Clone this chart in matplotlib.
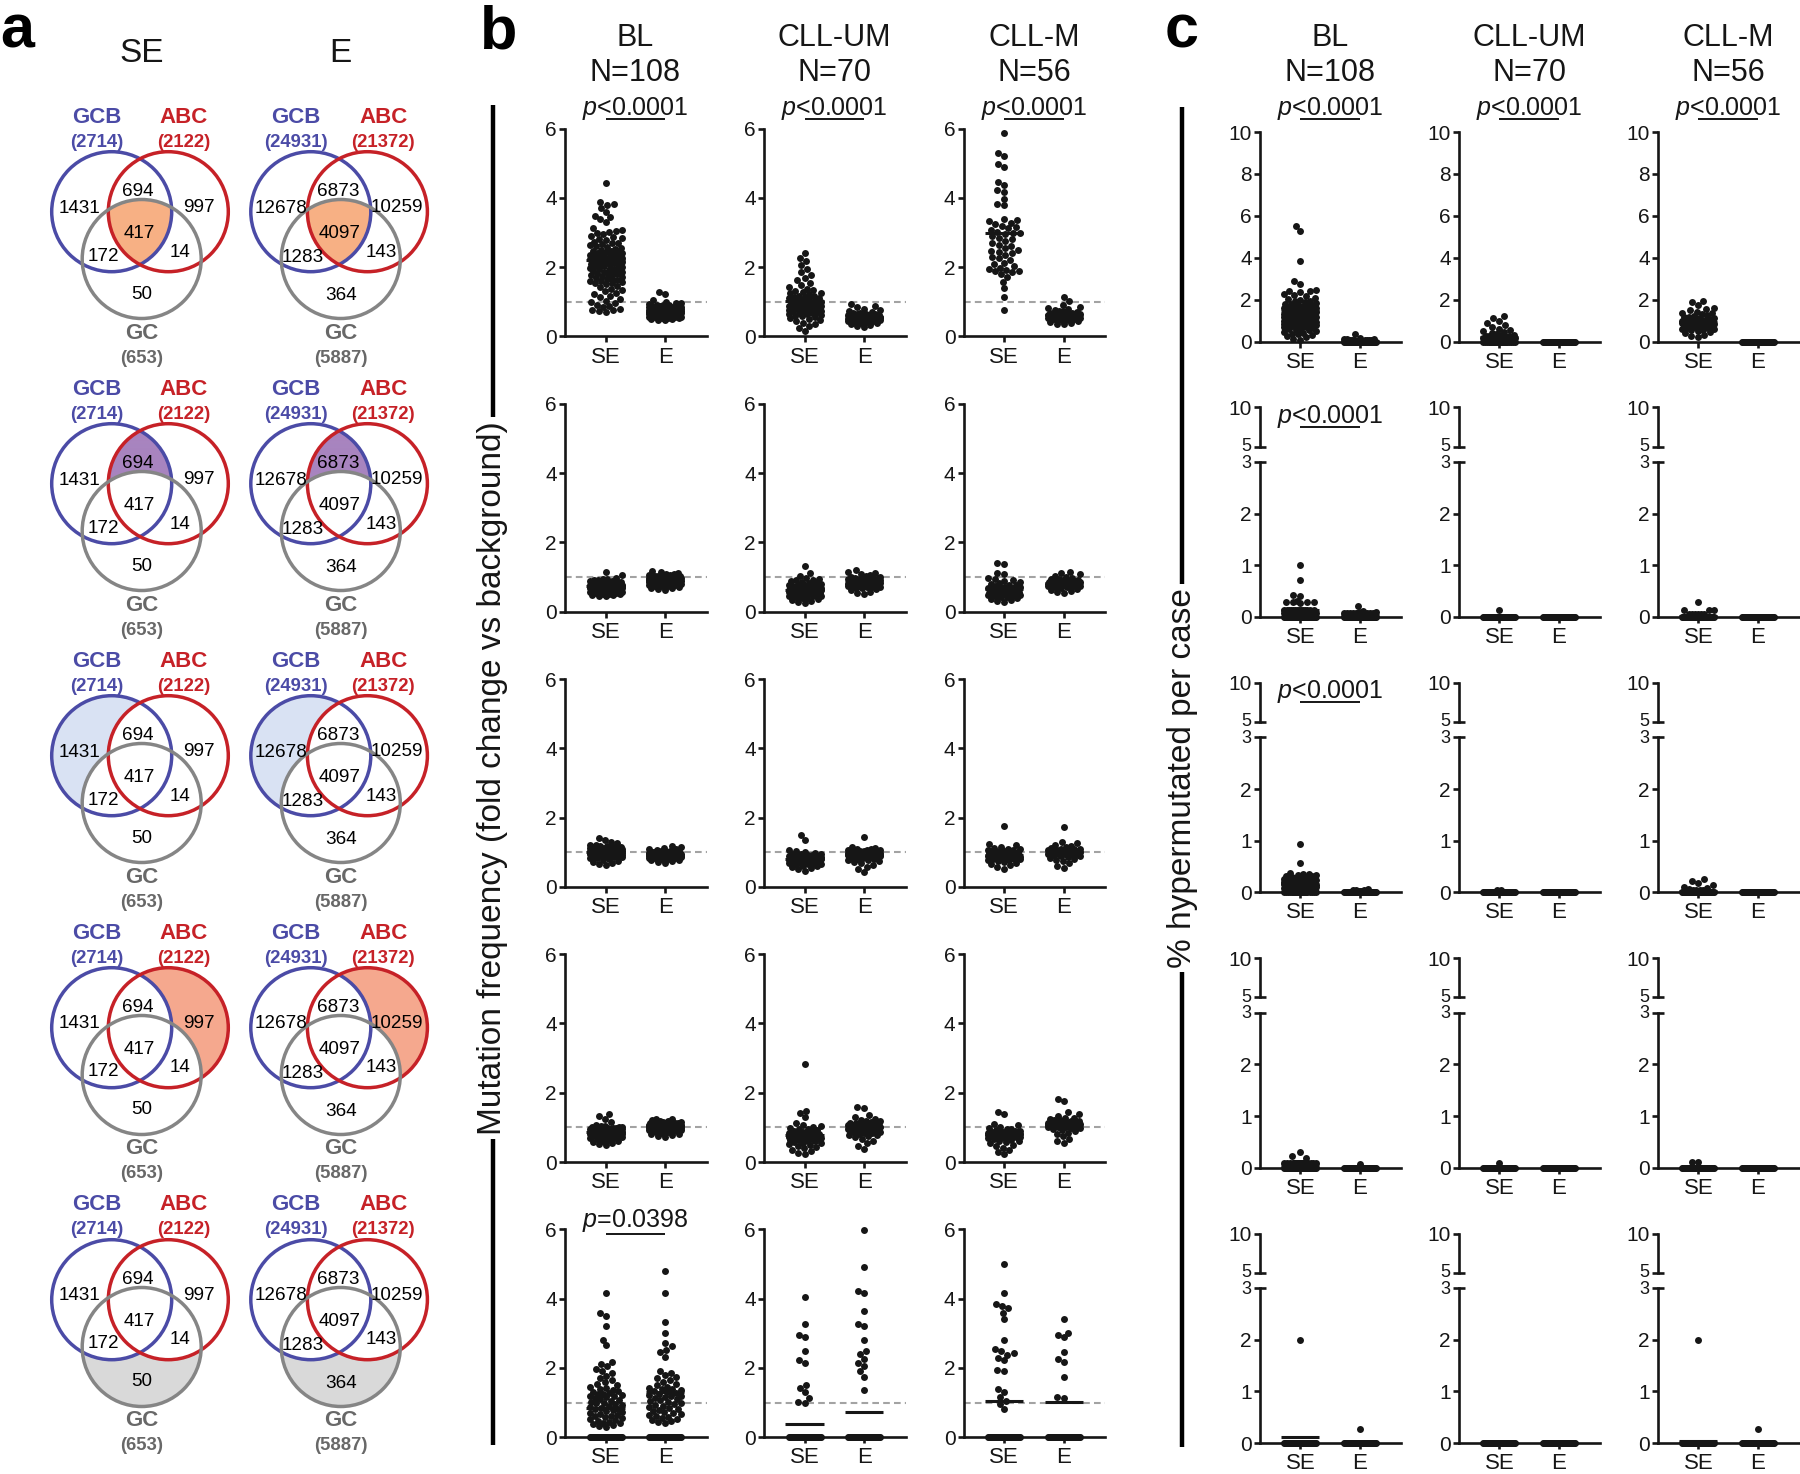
import numpy as np
import matplotlib
matplotlib.use("Agg")
import matplotlib.pyplot as plt
from matplotlib.patches import Circle
from matplotlib.transforms import blended_transform_factory

plt.rcParams['font.family'] = ['Liberation Sans', 'DejaVu Sans']
plt.rcParams['mathtext.fontset'] = 'custom'
plt.rcParams['mathtext.rm'] = 'Liberation Sans'
plt.rcParams['mathtext.it'] = 'Liberation Sans:italic'

# ======================= DATA =======================
groups = ["BL", "CLL-UM", "CLL-M"]
group_n = ["N=108", "N=70", "N=56"]
xcats = ["SE", "E"]

venn_cols = ["SE", "E"]
venn_set_names = ["GCB", "ABC", "GC"]
venn_set_sizes_SE = [2714, 2122, 653]
venn_set_sizes_E = [24931, 21372, 5887]
# order: GCB only, GCB&ABC, ABC only, all three, GCB&GC, ABC&GC, GC only
venn_regions_SE = [1431, 694, 997, 417, 172, 14, 50]
venn_regions_E = [12678, 6873, 10259, 4097, 1283, 143, 364]
venn_highlight = ["all", "gcb_abc", "gcb", "abc", "gc"]

# ---- panel b: mutation frequency (fold change vs background) ----
fc1_BL_SE = [4.42, 3.88, 3.82, 3.78, 3.70, 3.58, 3.49, 3.44, 3.38, 3.30, 3.12, 3.08, 3.05, 3.02, 2.98, 2.95,
             2.91, 2.88, 2.85, 2.80, 2.78, 2.74, 2.71, 2.70, 2.66, 2.63, 2.60, 2.58, 2.55, 2.53, 2.50, 2.48,
             2.47, 2.44, 2.42, 2.41, 2.38, 2.36, 2.35, 2.33, 2.31, 2.30, 2.28, 2.26, 2.25, 2.23, 2.21, 2.20,
             2.19, 2.17, 2.15, 2.14, 2.12, 2.10, 2.09, 2.07, 2.05, 2.03, 2.02, 2.00, 1.98, 1.96, 1.95, 1.93,
             1.91, 1.89, 1.87, 1.86, 1.84, 1.82, 1.80, 1.79, 1.77, 1.75, 1.72, 1.70, 1.68, 1.66, 1.63, 1.61,
             1.59, 1.57, 1.55, 1.53, 1.50, 1.46, 1.42, 1.38, 1.35, 1.30, 1.26, 1.22, 1.18, 1.13, 1.08, 1.03,
             0.99, 0.95, 0.91, 0.87, 0.84, 0.80, 0.77, 0.75, 0.73, 0.71, 2.44, 2.27]
fc1_BL_E = [1.28, 1.22, 1.05, 1.00, 0.97, 0.95, 0.94, 0.92, 0.91, 0.90, 0.89, 0.88, 0.87, 0.86, 0.86, 0.85,
            0.84, 0.83, 0.83, 0.82, 0.81, 0.80, 0.80, 0.79, 0.78, 0.78, 0.77, 0.76, 0.76, 0.75, 0.75, 0.74,
            0.74, 0.73, 0.73, 0.72, 0.72, 0.71, 0.71, 0.70, 0.70, 0.69, 0.69, 0.68, 0.68, 0.67, 0.67, 0.66,
            0.66, 0.65, 0.65, 0.64, 0.64, 0.63, 0.63, 0.62, 0.62, 0.61, 0.61, 0.60, 0.60, 0.59, 0.59, 0.58,
            0.58, 0.57, 0.57, 0.56, 0.56, 0.55, 0.55, 0.54, 0.53, 0.52, 0.51, 0.50, 0.48, 0.46, 0.74, 0.71,
            0.69, 0.66, 0.63, 0.61, 0.77, 0.73, 0.68, 0.64, 0.62, 0.70, 0.67, 0.65, 0.72, 0.60, 0.58, 0.75,
            0.79, 0.81, 0.84, 0.66, 0.69, 0.71, 0.63, 0.59, 0.62, 0.68, 0.57, 0.73]
fc1_UM_SE = [2.42, 2.25, 2.18, 2.05, 1.95, 1.85, 1.78, 1.70, 1.62, 1.55, 1.48, 1.42, 1.38, 1.35, 1.30, 1.27,
             1.24, 1.21, 1.18, 1.16, 1.14, 1.12, 1.10, 1.08, 1.06, 1.04, 1.02, 1.00, 0.98, 0.96, 0.95, 0.93,
             0.91, 0.90, 0.88, 0.86, 0.85, 0.83, 0.82, 0.80, 0.78, 0.77, 0.75, 0.73, 0.72, 0.70, 0.68, 0.66,
             0.64, 0.62, 0.60, 0.58, 0.55, 0.52, 0.50, 0.47, 0.44, 0.40, 0.36, 0.30, 0.25, 0.15, 0.87, 0.92,
             1.15, 0.97, 0.74, 1.25, 0.69, 0.81]
fc1_UM_E = [0.93, 0.88, 0.84, 0.80, 0.76, 0.73, 0.71, 0.69, 0.67, 0.66, 0.65, 0.64, 0.63, 0.62, 0.62, 0.61,
            0.60, 0.60, 0.59, 0.59, 0.58, 0.58, 0.57, 0.57, 0.56, 0.56, 0.55, 0.55, 0.54, 0.54, 0.53, 0.53,
            0.52, 0.52, 0.51, 0.51, 0.50, 0.50, 0.49, 0.49, 0.48, 0.48, 0.47, 0.46, 0.45, 0.44, 0.43, 0.42,
            0.40, 0.38, 0.36, 0.33, 0.30, 0.26, 0.57, 0.55, 0.53, 0.61, 0.63, 0.51, 0.49, 0.58, 0.60, 0.54,
            0.52, 0.56, 0.59, 0.47, 0.62, 0.50]
fc1_M_SE = [5.88, 5.30, 5.20, 4.98, 4.90, 4.45, 4.38, 4.22, 4.18, 3.98, 3.82, 3.78, 3.40, 3.35, 3.32, 3.28,
            3.25, 3.20, 3.15, 3.08, 3.02, 3.00, 2.98, 2.95, 2.90, 2.85, 2.80, 2.75, 2.70, 2.62, 2.55, 2.50,
            2.48, 2.45, 2.40, 2.35, 2.30, 2.25, 2.20, 2.12, 2.08, 2.02, 1.98, 1.95, 1.92, 1.90, 1.88, 1.85,
            1.80, 1.72, 1.58, 1.40, 1.15, 0.75, 3.12, 2.65]
fc1_M_E = [1.15, 1.02, 0.92, 0.86, 0.82, 0.79, 0.76, 0.74, 0.72, 0.70, 0.69, 0.68, 0.67, 0.66, 0.65, 0.64,
           0.64, 0.63, 0.63, 0.62, 0.62, 0.61, 0.61, 0.60, 0.60, 0.59, 0.59, 0.58, 0.58, 0.57, 0.57, 0.56,
           0.56, 0.55, 0.55, 0.54, 0.53, 0.52, 0.51, 0.50, 0.49, 0.48, 0.46, 0.44, 0.42, 0.40, 0.37, 0.35,
           0.65, 0.63, 0.61, 0.59, 0.66, 0.60, 0.62, 0.58]

fc2_BL_SE = [1.14, 1.05, 0.98, 0.95, 0.93, 0.91, 0.90, 0.88, 0.87, 0.86, 0.85, 0.84, 0.83, 0.83, 0.82, 0.81,
             0.81, 0.80, 0.80, 0.79, 0.79, 0.78, 0.78, 0.77, 0.77, 0.76, 0.76, 0.76, 0.75, 0.75, 0.75, 0.74,
             0.74, 0.74, 0.73, 0.73, 0.73, 0.72, 0.72, 0.72, 0.71, 0.71, 0.71, 0.70, 0.70, 0.70, 0.69, 0.69,
             0.69, 0.68, 0.68, 0.68, 0.67, 0.67, 0.67, 0.66, 0.66, 0.66, 0.65, 0.65, 0.65, 0.64, 0.64, 0.63,
             0.63, 0.62, 0.62, 0.61, 0.61, 0.60, 0.60, 0.59, 0.58, 0.57, 0.56, 0.55, 0.54, 0.53, 0.52, 0.51,
             0.50, 0.49, 0.48, 0.46, 0.45, 0.78, 0.74, 0.71, 0.69, 0.66, 0.63, 0.77, 0.73, 0.70, 0.67, 0.64,
             0.80, 0.72, 0.68, 0.62, 0.75, 0.71, 0.58, 0.82, 0.69, 0.65, 0.60, 0.74]
fc2_BL_E = [1.18, 1.15, 1.12, 1.10, 1.08, 1.06, 1.05, 1.04, 1.03, 1.02, 1.01, 1.00, 1.00, 0.99, 0.99, 0.98,
            0.98, 0.97, 0.97, 0.96, 0.96, 0.96, 0.95, 0.95, 0.95, 0.94, 0.94, 0.94, 0.93, 0.93, 0.93, 0.92,
            0.92, 0.92, 0.91, 0.91, 0.91, 0.90, 0.90, 0.90, 0.89, 0.89, 0.89, 0.88, 0.88, 0.88, 0.87, 0.87,
            0.87, 0.86, 0.86, 0.86, 0.85, 0.85, 0.85, 0.84, 0.84, 0.83, 0.83, 0.82, 0.82, 0.81, 0.81, 0.80,
            0.80, 0.79, 0.78, 0.77, 0.76, 0.75, 0.74, 0.73, 0.71, 0.69, 0.67, 0.65, 0.62, 0.93, 0.90, 0.87,
            0.84, 0.97, 0.92, 0.89, 0.86, 0.95, 0.91, 0.88, 0.83, 0.99, 0.94, 0.90, 0.85, 0.96, 0.92, 0.87,
            0.82, 1.01, 0.93, 0.89, 0.86, 0.98, 0.91, 0.88, 0.84, 0.95, 0.90, 0.87]
fc2_UM_SE = [1.32, 1.12, 1.02, 0.98, 0.95, 0.92, 0.90, 0.88, 0.86, 0.84, 0.82, 0.80, 0.79, 0.77, 0.76, 0.74,
             0.73, 0.72, 0.70, 0.69, 0.68, 0.67, 0.66, 0.65, 0.64, 0.63, 0.62, 0.61, 0.60, 0.59, 0.58, 0.57,
             0.56, 0.55, 0.54, 0.53, 0.52, 0.51, 0.50, 0.49, 0.48, 0.47, 0.46, 0.45, 0.44, 0.42, 0.40, 0.38,
             0.36, 0.34, 0.31, 0.28, 0.25, 0.66, 0.63, 0.60, 0.57, 0.54, 0.71, 0.68, 0.64, 0.58, 0.52, 0.75,
             0.62, 0.55, 0.48, 0.69, 0.59, 0.50]
fc2_UM_E = [1.20, 1.15, 1.12, 1.08, 1.05, 1.03, 1.01, 0.99, 0.98, 0.96, 0.95, 0.94, 0.93, 0.92, 0.91, 0.90,
            0.89, 0.88, 0.88, 0.87, 0.86, 0.86, 0.85, 0.85, 0.84, 0.84, 0.83, 0.83, 0.82, 0.82, 0.81, 0.81,
            0.80, 0.80, 0.79, 0.78, 0.77, 0.76, 0.75, 0.74, 0.73, 0.72, 0.71, 0.70, 0.69, 0.67, 0.65, 0.62,
            0.58, 0.54, 0.50, 0.90, 0.87, 0.84, 0.81, 0.78, 0.93, 0.89, 0.86, 0.83, 0.79, 0.95, 0.88, 0.85,
            0.80, 0.76, 0.91, 0.87, 0.82, 0.77]
fc2_M_SE = [1.40, 1.38, 1.12, 1.10, 0.98, 0.94, 0.90, 0.87, 0.85, 0.82, 0.80, 0.78, 0.76, 0.74, 0.72, 0.70,
            0.69, 0.68, 0.66, 0.65, 0.64, 0.63, 0.62, 0.61, 0.60, 0.59, 0.58, 0.57, 0.56, 0.55, 0.54, 0.53,
            0.52, 0.51, 0.50, 0.49, 0.48, 0.47, 0.46, 0.45, 0.43, 0.41, 0.39, 0.36, 0.33, 0.30, 0.28, 0.67,
            0.63, 0.58, 0.54, 0.71, 0.60, 0.56, 0.50, 0.62]
fc2_M_E = [1.15, 1.12, 1.08, 1.04, 1.00, 0.97, 0.95, 0.93, 0.92, 0.91, 0.90, 0.89, 0.88, 0.87, 0.86, 0.86,
           0.85, 0.85, 0.84, 0.84, 0.83, 0.83, 0.82, 0.82, 0.81, 0.81, 0.80, 0.80, 0.79, 0.79, 0.78, 0.78,
           0.77, 0.76, 0.75, 0.74, 0.73, 0.72, 0.70, 0.68, 0.66, 0.63, 0.60, 0.57, 0.55, 0.86, 0.84, 0.82,
           0.80, 0.88, 0.85, 0.83, 0.81, 0.87, 0.79, 0.84]

fc3_BL_SE = [1.42, 1.36, 1.30, 1.26, 1.22, 1.20, 1.18, 1.17, 1.16, 1.15, 1.14, 1.13, 1.12, 1.11, 1.10, 1.10,
             1.09, 1.08, 1.08, 1.07, 1.06, 1.06, 1.05, 1.05, 1.04, 1.04, 1.03, 1.03, 1.02, 1.02, 1.02, 1.01,
             1.01, 1.01, 1.00, 1.00, 1.00, 0.99, 0.99, 0.99, 0.98, 0.98, 0.98, 0.97, 0.97, 0.97, 0.96, 0.96,
             0.96, 0.95, 0.95, 0.95, 0.94, 0.94, 0.93, 0.93, 0.92, 0.92, 0.91, 0.91, 0.90, 0.90, 0.89, 0.88,
             0.87, 0.86, 0.85, 0.84, 0.82, 0.80, 0.78, 0.75, 0.72, 0.68, 0.65, 0.62, 1.05, 1.02, 0.99, 0.96,
             0.93, 1.08, 1.03, 1.00, 0.97, 0.94, 1.12, 1.06, 1.01, 0.98, 0.95, 0.91, 1.14, 1.04, 0.99, 0.92,
             1.09, 1.00, 0.96, 0.89, 1.07, 1.02, 0.97, 0.94, 1.11, 1.03, 0.98, 0.93]
fc3_BL_E = [1.18, 1.15, 1.12, 1.10, 1.08, 1.06, 1.04, 1.03, 1.02, 1.01, 1.00, 1.00, 0.99, 0.99, 0.98, 0.98,
            0.98, 0.97, 0.97, 0.97, 0.96, 0.96, 0.96, 0.95, 0.95, 0.95, 0.95, 0.94, 0.94, 0.94, 0.94, 0.93,
            0.93, 0.93, 0.93, 0.92, 0.92, 0.92, 0.92, 0.91, 0.91, 0.91, 0.91, 0.90, 0.90, 0.90, 0.90, 0.89,
            0.89, 0.89, 0.88, 0.88, 0.88, 0.87, 0.87, 0.87, 0.86, 0.86, 0.85, 0.85, 0.84, 0.83, 0.82, 0.81,
            0.80, 0.78, 0.76, 0.74, 0.72, 0.70, 0.96, 0.93, 0.90, 0.88, 0.95, 0.92, 0.89, 0.97, 0.94, 0.91,
            0.87, 0.99, 0.93, 0.90, 0.86, 0.96, 0.92, 0.89, 0.95, 0.91, 0.88, 1.00, 0.94, 0.90, 0.87, 0.97,
            0.93, 0.89, 0.96, 0.92, 0.88, 0.98, 0.94, 0.91, 0.86, 0.95, 0.92, 0.90]
fc3_UM_SE = [1.50, 1.35, 1.05, 1.02, 1.00, 0.98, 0.96, 0.95, 0.94, 0.93, 0.92, 0.91, 0.90, 0.89, 0.88, 0.87,
             0.86, 0.86, 0.85, 0.85, 0.84, 0.84, 0.83, 0.83, 0.82, 0.82, 0.81, 0.81, 0.80, 0.80, 0.79, 0.79,
             0.78, 0.78, 0.77, 0.77, 0.76, 0.76, 0.75, 0.75, 0.74, 0.73, 0.72, 0.71, 0.70, 0.69, 0.68, 0.67,
             0.66, 0.65, 0.63, 0.61, 0.59, 0.56, 0.53, 0.50, 0.45, 0.84, 0.81, 0.78, 0.75, 0.88, 0.83, 0.79,
             0.74, 0.86, 0.80, 0.77, 0.82, 0.76]
fc3_UM_E = [1.45, 1.15, 1.12, 1.10, 1.08, 1.07, 1.06, 1.05, 1.04, 1.03, 1.02, 1.01, 1.00, 1.00, 0.99, 0.99,
            0.98, 0.98, 0.97, 0.97, 0.96, 0.96, 0.95, 0.95, 0.94, 0.94, 0.93, 0.93, 0.92, 0.92, 0.91, 0.91,
            0.90, 0.90, 0.89, 0.89, 0.88, 0.88, 0.87, 0.86, 0.85, 0.84, 0.83, 0.82, 0.81, 0.80, 0.78, 0.76,
            0.74, 0.71, 0.68, 0.64, 0.58, 0.50, 0.42, 0.97, 0.94, 0.91, 0.88, 1.01, 0.96, 0.93, 0.90, 0.86,
            0.99, 0.95, 0.92, 0.87, 1.03, 0.90]
fc3_M_SE = [1.76, 1.25, 1.20, 1.16, 1.12, 1.10, 1.08, 1.06, 1.05, 1.04, 1.03, 1.02, 1.01, 1.00, 0.99, 0.98,
            0.97, 0.96, 0.95, 0.94, 0.93, 0.92, 0.92, 0.91, 0.90, 0.89, 0.88, 0.88, 0.87, 0.86, 0.85, 0.84,
            0.83, 0.82, 0.81, 0.80, 0.79, 0.78, 0.76, 0.74, 0.72, 0.69, 0.66, 0.62, 0.57, 0.52, 0.95, 0.90,
            0.86, 0.83, 0.98, 0.93, 0.89, 0.85, 1.00, 0.87]
fc3_M_E = [1.72, 1.30, 1.27, 1.22, 1.18, 1.15, 1.12, 1.10, 1.09, 1.08, 1.07, 1.06, 1.05, 1.04, 1.03, 1.02,
           1.02, 1.01, 1.01, 1.00, 1.00, 0.99, 0.99, 0.98, 0.98, 0.97, 0.97, 0.96, 0.96, 0.95, 0.95, 0.94,
           0.93, 0.92, 0.91, 0.90, 0.88, 0.86, 0.84, 0.81, 0.78, 0.74, 0.68, 0.60, 0.55, 1.03, 1.00, 0.97,
           0.94, 1.06, 1.01, 0.98, 0.95, 1.04, 0.99, 0.96]

fc4_BL_SE = [1.40, 1.32, 1.25, 1.15, 1.08, 1.05, 1.03, 1.02, 1.01, 1.00, 0.99, 0.98, 0.97, 0.97, 0.96, 0.96,
             0.95, 0.95, 0.94, 0.94, 0.93, 0.93, 0.92, 0.92, 0.91, 0.91, 0.90, 0.90, 0.90, 0.89, 0.89, 0.89,
             0.88, 0.88, 0.88, 0.87, 0.87, 0.87, 0.86, 0.86, 0.86, 0.85, 0.85, 0.85, 0.84, 0.84, 0.84, 0.83,
             0.83, 0.83, 0.82, 0.82, 0.82, 0.81, 0.81, 0.80, 0.80, 0.79, 0.79, 0.78, 0.78, 0.77, 0.77, 0.76,
             0.75, 0.74, 0.73, 0.72, 0.71, 0.70, 0.68, 0.66, 0.64, 0.62, 0.60, 0.57, 0.54, 0.51, 0.48, 0.90,
             0.87, 0.84, 0.81, 0.92, 0.88, 0.85, 0.82, 0.79, 0.94, 0.89, 0.86, 0.83, 0.80, 0.91, 0.87, 0.84,
             0.78, 0.93, 0.88, 0.85, 0.81, 0.90, 0.86, 0.83, 0.76, 0.89, 0.85, 0.82]
fc4_BL_E = [1.25, 1.23, 1.21, 1.19, 1.17, 1.16, 1.15, 1.14, 1.13, 1.12, 1.11, 1.10, 1.10, 1.09, 1.09, 1.08,
            1.08, 1.07, 1.07, 1.06, 1.06, 1.06, 1.05, 1.05, 1.05, 1.04, 1.04, 1.04, 1.03, 1.03, 1.03, 1.02,
            1.02, 1.02, 1.01, 1.01, 1.01, 1.00, 1.00, 1.00, 0.99, 0.99, 0.99, 0.98, 0.98, 0.98, 0.97, 0.97,
            0.96, 0.96, 0.95, 0.95, 0.94, 0.93, 0.92, 0.91, 0.90, 0.88, 0.86, 0.84, 0.82, 0.80, 0.77, 0.75,
            0.72, 1.06, 1.03, 1.00, 0.97, 1.08, 1.04, 1.01, 0.98, 1.10, 1.05, 1.02, 0.99, 1.07, 1.03, 1.00,
            0.96, 1.12, 1.06, 1.02, 0.98, 1.09, 1.04, 1.01, 0.97, 1.11, 1.05, 1.02, 0.99, 1.07, 1.03, 1.00,
            0.95, 1.08, 1.04, 1.01, 0.98, 1.06, 1.02, 0.99, 1.05, 1.03, 1.00, 1.04]
fc4_UM_SE = [2.83, 1.48, 1.42, 1.30, 1.12, 1.08, 1.05, 1.02, 0.99, 0.96, 0.94, 0.92, 0.90, 0.88, 0.86, 0.85,
             0.84, 0.83, 0.82, 0.81, 0.80, 0.79, 0.78, 0.77, 0.76, 0.76, 0.75, 0.75, 0.74, 0.74, 0.73, 0.73,
             0.72, 0.72, 0.71, 0.71, 0.70, 0.70, 0.69, 0.68, 0.67, 0.66, 0.65, 0.64, 0.63, 0.62, 0.60, 0.58,
             0.56, 0.54, 0.52, 0.50, 0.47, 0.44, 0.40, 0.36, 0.31, 0.26, 0.22, 0.78, 0.75, 0.72, 0.69, 0.80,
             0.76, 0.73, 0.70, 0.82, 0.74, 0.71]
fc4_UM_E = [1.60, 1.55, 1.35, 1.30, 1.25, 1.22, 1.19, 1.17, 1.15, 1.13, 1.12, 1.10, 1.09, 1.08, 1.07, 1.06,
            1.05, 1.04, 1.03, 1.03, 1.02, 1.02, 1.01, 1.01, 1.00, 1.00, 0.99, 0.99, 0.98, 0.98, 0.97, 0.97,
            0.96, 0.96, 0.95, 0.95, 0.94, 0.93, 0.92, 0.91, 0.90, 0.89, 0.88, 0.87, 0.86, 0.85, 0.83, 0.81,
            0.79, 0.77, 0.74, 0.71, 0.67, 0.62, 0.55, 0.47, 0.38, 1.04, 1.01, 0.98, 0.95, 1.06, 1.02, 0.99,
            0.96, 1.08, 1.00, 0.97, 1.03, 0.94]
fc4_M_SE = [1.45, 1.38, 1.10, 1.06, 1.02, 0.99, 0.96, 0.94, 0.92, 0.90, 0.89, 0.88, 0.87, 0.86, 0.85, 0.84,
            0.84, 0.83, 0.83, 0.82, 0.82, 0.81, 0.81, 0.80, 0.80, 0.79, 0.79, 0.78, 0.78, 0.77, 0.76, 0.75,
            0.74, 0.73, 0.72, 0.71, 0.70, 0.68, 0.66, 0.64, 0.62, 0.60, 0.57, 0.54, 0.50, 0.46, 0.41, 0.35,
            0.28, 0.22, 0.85, 0.81, 0.78, 0.83, 0.80, 0.76]
fc4_M_E = [1.82, 1.75, 1.45, 1.38, 1.32, 1.28, 1.26, 1.24, 1.22, 1.20, 1.19, 1.18, 1.17, 1.16, 1.15, 1.14,
           1.13, 1.12, 1.11, 1.10, 1.10, 1.09, 1.09, 1.08, 1.08, 1.07, 1.07, 1.06, 1.06, 1.05, 1.05, 1.04,
           1.03, 1.02, 1.01, 1.00, 0.99, 0.97, 0.95, 0.92, 0.89, 0.85, 0.80, 0.74, 0.67, 0.60, 0.55, 1.12,
           1.09, 1.06, 1.03, 1.15, 1.11, 1.08, 1.04, 1.13]

fc5_BL_SE = [4.17, 3.58, 3.50, 3.20, 2.82, 2.65, 2.18, 2.12, 2.05, 1.98, 1.92, 1.85, 1.78, 1.72, 1.65, 1.60,
             1.55, 1.50, 1.46, 1.42, 1.38, 1.35, 1.32, 1.30, 1.28, 1.26, 1.24, 1.22, 1.20, 1.18, 1.15, 1.12,
             1.10, 1.08, 1.05, 1.02, 1.00, 0.98, 0.95, 0.92, 0.90, 0.88, 0.85, 0.82, 0.80, 0.78, 0.75, 0.72,
             0.70, 0.68, 0.65, 0.62, 0.60, 0.57, 0.55, 0.52, 0.50, 0.47, 0.45, 0.42, 0.40, 0.38, 0.35, 0.32,
             0.30] + [0.0] * 43
fc5_BL_E = [4.80, 4.15, 3.32, 3.00, 2.72, 2.62, 2.52, 2.45, 2.32, 1.92, 1.86, 1.80, 1.75, 1.70, 1.65, 1.60,
            1.55, 1.50, 1.46, 1.42, 1.40, 1.38, 1.35, 1.33, 1.30, 1.28, 1.25, 1.22, 1.20, 1.18, 1.15, 1.12,
            1.10, 1.08, 1.05, 1.02, 1.00, 0.97, 0.94, 0.91, 0.88, 0.85, 0.82, 0.79, 0.76, 0.73, 0.70, 0.67,
            0.64, 0.61, 0.58, 0.55, 0.52, 0.49, 0.46, 0.43, 0.40] + [0.0] * 51
fc5_UM_SE = [4.05, 3.27, 2.95, 2.88, 2.48, 2.22, 2.15, 1.52, 1.42, 1.30, 1.12, 1.02, 0.98] + [0.0] * 57
fc5_UM_E = [5.98, 4.92, 4.22, 4.15, 3.65, 3.28, 3.20, 2.80, 2.48, 2.40, 2.25, 2.15, 2.05, 1.90, 1.75,
            1.35] + [0.0] * 54
fc5_M_SE = [5.00, 4.17, 3.85, 3.78, 3.72, 3.60, 3.42, 2.80, 2.55, 2.48, 2.42, 2.38, 2.30, 2.22, 1.95, 1.90,
            1.38, 1.30, 1.15, 1.05, 0.95, 0.80] + [0.0] * 34
fc5_M_E = [3.40, 3.02, 2.95, 2.88, 2.45, 2.25, 2.18, 1.75, 1.15, 1.12] + [0.0] * 46

# mean lines, per row: BL SE, BL E, UM SE, UM E, M SE, M E
fc_means_1 = [2.21, 0.70, 1.02, 0.56, 2.98, 0.62]
fc_means_2 = [0.73, 0.90, 0.62, 0.85, 0.66, 0.83]
fc_means_3 = [1.00, 0.93, 0.80, 0.92, 0.92, 1.00]
fc_means_4 = [0.87, 1.03, 0.77, 1.00, 0.82, 1.08]
fc_means_5 = [0.83, 1.30, 0.38, 0.74, 1.05, 1.02]

# ---- panel c: % hypermutated per case ----
hm1_BL_SE = [5.52, 5.28, 3.85, 2.90, 2.75, 2.48, 2.42, 2.40, 2.35, 2.25, 2.20, 2.15, 2.10, 2.05, 2.00, 1.95,
             1.92, 1.88, 1.85, 1.80, 1.78, 1.75, 1.72, 1.70, 1.68, 1.65, 1.62, 1.60, 1.58, 1.55, 1.52, 1.50,
             1.48, 1.46, 1.44, 1.42, 1.40, 1.38, 1.36, 1.34, 1.32, 1.30, 1.28, 1.26, 1.24, 1.22, 1.20, 1.18,
             1.16, 1.14, 1.12, 1.10, 1.08, 1.06, 1.04, 1.02, 1.00, 0.98, 0.96, 0.94, 0.92, 0.90, 0.88, 0.86,
             0.84, 0.82, 0.80, 0.78, 0.76, 0.74, 0.72, 0.70, 0.68, 0.65, 0.62, 0.60, 0.57, 0.54, 0.50, 0.46,
             0.42, 0.38, 0.34, 0.30, 0.25, 0.20, 0.12, 0.05, 1.25, 1.15, 1.05, 0.95, 0.85, 1.35, 1.20, 1.00,
             0.90, 1.45, 1.10, 0.98, 1.30, 1.02, 0.93, 1.18, 1.08, 0.97, 1.40, 1.13]
hm1_BL_E = [0.35, 0.15, 0.12, 0.10, 0.10, 0.08, 0.08, 0.06, 0.06, 0.05, 0.05, 0.05, 0.04, 0.04, 0.04, 0.03,
            0.03, 0.03, 0.02, 0.02] + [0.0] * 88
hm1_UM_SE = [1.22, 1.10, 1.00, 0.90, 0.80, 0.70, 0.62, 0.55, 0.50, 0.45, 0.40, 0.36, 0.33, 0.30, 0.28, 0.26,
             0.24, 0.22, 0.20, 0.20, 0.18, 0.18, 0.16, 0.16, 0.15, 0.14, 0.14, 0.13, 0.12, 0.12, 0.11, 0.10,
             0.10, 0.10, 0.09, 0.08, 0.08, 0.07, 0.06, 0.06, 0.05, 0.05, 0.04, 0.03] + [0.0] * 26
hm1_UM_E = [0.0] * 70
hm1_M_SE = [1.95, 1.90, 1.75, 1.62, 1.55, 1.48, 1.42, 1.38, 1.34, 1.30, 1.26, 1.22, 1.18, 1.15, 1.12, 1.10,
            1.08, 1.05, 1.03, 1.00, 0.98, 0.96, 0.94, 0.92, 0.90, 0.88, 0.86, 0.84, 0.82, 0.80, 0.78, 0.76,
            0.74, 0.72, 0.70, 0.68, 0.66, 0.64, 0.62, 0.60, 0.57, 0.54, 0.50, 0.46, 0.40, 0.33, 0.25, 0.20,
            1.02, 0.97, 0.91, 0.85, 0.79, 1.06, 0.95, 0.83]
hm1_M_E = [0.0] * 56

hm2_BL_SE = [1.00, 0.71, 0.43, 0.41, 0.30, 0.29, 0.29, 0.28, 0.28, 0.27] + [0.14] * 14 + [0.07] * 16 + [0.0] * 68
hm2_BL_E = [0.22, 0.12, 0.10, 0.09] + [0.07] * 10 + [0.04] * 14 + [0.0] * 80
hm2_UM_SE = [0.13] + [0.0] * 69
hm2_UM_E = [0.0] * 70
hm2_M_SE = [0.29, 0.14, 0.14, 0.13] + [0.05] * 6 + [0.0] * 46
hm2_M_E = [0.0] * 56

hm3_BL_SE = [0.93, 0.56, 0.38, 0.36, 0.35, 0.34, 0.33, 0.32, 0.31, 0.30, 0.30, 0.29, 0.28, 0.28, 0.27, 0.26,
             0.26, 0.25, 0.24, 0.24, 0.23, 0.22, 0.22, 0.21, 0.20, 0.20, 0.19, 0.18, 0.18, 0.17, 0.16, 0.16,
             0.15, 0.14, 0.14, 0.13, 0.12, 0.12, 0.11, 0.10, 0.10, 0.09, 0.08, 0.08, 0.07, 0.06, 0.06, 0.05,
             0.04, 0.03, 0.25, 0.22, 0.19, 0.17, 0.15, 0.13, 0.11, 0.27, 0.21, 0.18, 0.16, 0.14, 0.12, 0.09,
             0.23, 0.20, 0.17, 0.15, 0.13, 0.10, 0.26, 0.19, 0.16, 0.12, 0.24, 0.18, 0.14, 0.11, 0.21, 0.15,
             0.13, 0.17, 0.19, 0.14] + [0.0] * 24
hm3_BL_E = [0.07, 0.05, 0.04, 0.04, 0.03, 0.03, 0.02] + [0.0] * 101
hm3_UM_SE = [0.04, 0.04, 0.03] + [0.0] * 67
hm3_UM_E = [0.0] * 70
hm3_M_SE = [0.25, 0.22, 0.18, 0.14, 0.10, 0.08, 0.06, 0.05, 0.05, 0.04, 0.04, 0.03] + [0.0] * 44
hm3_M_E = [0.0] * 56

hm4_BL_SE = [0.30, 0.22, 0.18] + [0.10] * 20 + [0.05] * 10 + [0.0] * 75
hm4_BL_E = [0.08] + [0.0] * 107
hm4_UM_SE = [0.10] + [0.0] * 69
hm4_UM_E = [0.0] * 70
hm4_M_SE = [0.11, 0.11] + [0.0] * 54
hm4_M_E = [0.0] * 56

hm5_BL_SE = [2.00] + [0.0] * 107
hm5_BL_E = [0.28] + [0.0] * 107
hm5_UM_SE = [0.0] * 70
hm5_UM_E = [0.0] * 70
hm5_M_SE = [2.00] + [0.0] * 55
hm5_M_E = [0.28] + [0.0] * 55

hm_means_1 = [1.46, 0.03, 0.20, 0.0, 0.95, 0.0]
hm_means_2 = [0.13, 0.04, 0.0, 0.0, 0.02, 0.0]
hm_means_3 = [0.17, 0.01, 0.0, 0.0, 0.03, 0.0]
hm_means_4 = [0.05, 0.0, 0.0, 0.0, 0.0, 0.0]
hm_means_5 = [0.11, 0.0, 0.0, 0.0, 0.04, 0.0]

b_p_labels = {(0, 0): "<0.0001", (0, 1): "<0.0001", (0, 2): "<0.0001", (4, 0): "=0.0398"}
c_p_labels = {(0, 0): "<0.0001", (0, 1): "<0.0001", (0, 2): "<0.0001", (1, 0): "<0.0001", (2, 0): "<0.0001"}

# ======================= TABLES =======================
fc_rows = [
    [(fc1_BL_SE, fc1_BL_E), (fc1_UM_SE, fc1_UM_E), (fc1_M_SE, fc1_M_E)],
    [(fc2_BL_SE, fc2_BL_E), (fc2_UM_SE, fc2_UM_E), (fc2_M_SE, fc2_M_E)],
    [(fc3_BL_SE, fc3_BL_E), (fc3_UM_SE, fc3_UM_E), (fc3_M_SE, fc3_M_E)],
    [(fc4_BL_SE, fc4_BL_E), (fc4_UM_SE, fc4_UM_E), (fc4_M_SE, fc4_M_E)],
    [(fc5_BL_SE, fc5_BL_E), (fc5_UM_SE, fc5_UM_E), (fc5_M_SE, fc5_M_E)],
]
fc_means = [fc_means_1, fc_means_2, fc_means_3, fc_means_4, fc_means_5]
hm_rows = [
    [(hm1_BL_SE, hm1_BL_E), (hm1_UM_SE, hm1_UM_E), (hm1_M_SE, hm1_M_E)],
    [(hm2_BL_SE, hm2_BL_E), (hm2_UM_SE, hm2_UM_E), (hm2_M_SE, hm2_M_E)],
    [(hm3_BL_SE, hm3_BL_E), (hm3_UM_SE, hm3_UM_E), (hm3_M_SE, hm3_M_E)],
    [(hm4_BL_SE, hm4_BL_E), (hm4_UM_SE, hm4_UM_E), (hm4_M_SE, hm4_M_E)],
    [(hm5_BL_SE, hm5_BL_E), (hm5_UM_SE, hm5_UM_E), (hm5_M_SE, hm5_M_E)],
]
hm_means = [hm_means_1, hm_means_2, hm_means_3, hm_means_4, hm_means_5]

# ======================= LAYOUT / STYLE =======================
W, H = 1800, 1474
K = '#161616'
LW = 1.9
fig = plt.figure(figsize=(W / 100, H / 100), dpi=100)

ov = fig.add_axes([0, 0, 1, 1])
ov.axis('off')


def add_ax(left, top, w, h):
    return fig.add_axes([left / W, 1 - (top + h) / H, w / W, h / H])


XLIM = (0.32, 2.69)
B_LEFTS = [565.0, 764.0, 963.6]
B_W = 141.5
B_TOP0, B_H, B_DY = 128.6, 207.8, 275.2
C_LEFTS = [1260.0, 1459.0, 1658.0]
C_W = 141.0
C_TOP0, C_H, C_DY = 132.0, 209.5, 275.4
C_TOPSEG, C_GAP = 39.2, 15.4


def swarm_x(vals, center, px_per_unit, xu_per_px, d=6.6, maxoff=16):
    vals = np.asarray(vals, float)
    ys = vals * px_per_unit
    order = np.argsort(-ys, kind='stable')[::-1]
    cands = sorted(range(-maxoff, maxoff + 1), key=lambda c: (abs(c), c))
    px_l, py_l = [], []
    offs = np.zeros(len(vals))
    for i in order:
        y = ys[i]
        if px_l:
            pxa = np.array(px_l); pya = np.array(py_l)
            m = np.abs(pya - y) < d
            nx, ny = pxa[m], pya[m]
        else:
            nx = ny = np.array([])
        chosen = None
        bestd, bestc = -1.0, 0
        for c in cands:
            if len(nx) == 0:
                chosen = c
                break
            dist = np.min(np.hypot(nx - c, ny - y))
            if dist >= d * 0.95:
                chosen = c
                break
            if dist > bestd + 1e-9:
                bestd, bestc = dist, c
        if chosen is None:
            chosen = bestc
        offs[i] = chosen
        px_l.append(chosen)
        py_l.append(y)
    return center + offs * xu_per_px


def style_axes(ax, show_bottom=True):
    ax.set_facecolor('none')
    ax.spines['top'].set_visible(False)
    ax.spines['right'].set_visible(False)
    ax.spines['left'].set_linewidth(LW)
    ax.spines['left'].set_color(K)
    ax.spines['bottom'].set_linewidth(LW)
    ax.spines['bottom'].set_color(K)
    ax.tick_params(axis='y', direction='out', length=4.3, width=LW, color=K,
                   labelsize=15, pad=1.5, labelcolor=K)
    ax.tick_params(axis='x', direction='out', length=4.3, width=LW, color=K,
                   labelsize=16, pad=3.0, labelcolor=K)
    ax.set_xlim(*XLIM)
    if show_bottom:
        ax.set_xticks([1, 2])
        ax.set_xticklabels(xcats)
    else:
        ax.spines['bottom'].set_visible(False)
        ax.set_xticks([])


def draw_points(ax, pair, means2, ppu, w_px):
    xu = (XLIM[1] - XLIM[0]) / w_px
    for k in range(2):
        vals = pair[k]
        c = k + 1
        xs = swarm_x(vals, c, ppu, xu)
        ax.scatter(xs, vals, s=25, c=K, linewidths=0, zorder=6, clip_on=False)
        ax.plot([c - 0.32, c + 0.32], [means2[k], means2[k]], color=K, lw=2.2,
                zorder=7, solid_capstyle='butt', clip_on=False)


def p_annot(ax, label, base, liney, size=18):
    ax.text(1.5, base, r'$\mathit{p}$' + label, ha='center', va='baseline', fontsize=size,
            color=K, clip_on=False)
    ax.plot([1, 2], [liney, liney], color=K, lw=1.4, clip_on=False, solid_capstyle='butt')


def break_label(ax, yval, text, dy_pt):
    tr = blended_transform_factory(ax.transAxes, ax.transData)
    ax.annotate(text, xy=(0, yval), xycoords=tr, xytext=(-5.9, dy_pt), textcoords='offset points',
                ha='right', va='center_baseline', fontsize=13, color=K, annotation_clip=False)
    ax.plot([0, 0.045], [yval, yval], color=K, lw=LW, transform=tr, clip_on=False,
            solid_capstyle='butt')


# ----------------------- panel b -----------------------
for r in range(5):
    top = B_TOP0 + r * B_DY
    for g in range(3):
        ax = add_ax(B_LEFTS[g], top, B_W, B_H)
        style_axes(ax)
        ax.set_ylim(0, 6)
        ax.set_yticks([0, 2, 4, 6])
        ax.axhline(1.0, color='#a3a3a3', lw=1.5, ls=(0, (3.2, 2.0)), zorder=1)
        ppu = B_H / 6.0
        m = fc_means[r]
        draw_points(ax, fc_rows[r][g], (m[2 * g], m[2 * g + 1]), ppu, B_W)
        if (r, g) in b_p_labels:
            if r == 0:
                p_annot(ax, b_p_labels[(r, g)], 6.39, 6.27)
            else:
                p_annot(ax, b_p_labels[(r, g)], 6.07, 5.88)

# ----------------------- panel c -----------------------
for r in range(5):
    top = C_TOP0 + r * C_DY
    for g in range(3):
        m = hm_means[r]
        if r == 0:
            ax = add_ax(C_LEFTS[g], top, C_W, C_H)
            style_axes(ax)
            ax.set_ylim(0, 10)
            ax.set_yticks([0, 2, 4, 6, 8, 10])
            draw_points(ax, hm_rows[r][g], (m[2 * g], m[2 * g + 1]), C_H / 10.0, C_W)
            if (r, g) in c_p_labels:
                p_annot(ax, c_p_labels[(r, g)], 10.81, 10.61)
        else:
            axt = add_ax(C_LEFTS[g], top, C_W, C_TOPSEG)
            style_axes(axt, show_bottom=False)
            axt.set_ylim(5, 10)
            axt.set_yticks([5, 10])
            axt.set_yticklabels(['', '10'])
            break_label(axt, 5, '5', 1.6)
            hb = C_H - C_TOPSEG - C_GAP
            axb = add_ax(C_LEFTS[g], top + C_TOPSEG + C_GAP, C_W, hb)
            style_axes(axb)
            axb.set_ylim(0, 3)
            axb.set_yticks([0, 1, 2, 3])
            axb.set_yticklabels(['0', '1', '2', ''])
            break_label(axb, 3, '3', 0.6)
            draw_points(axb, hm_rows[r][g], (m[2 * g], m[2 * g + 1]), hb / 3.0, C_W)
            if (r, g) in c_p_labels:
                p_annot(axt, c_p_labels[(r, g)], 8.06, 7.5)

# ----------------------- headers -----------------------
for g in range(3):
    for lefts, w in ((B_LEFTS, B_W), (C_LEFTS, C_W)):
        xc = lefts[g] + w * (1.5 - XLIM[0]) / (XLIM[1] - XLIM[0])
        ov.text(xc, 38, groups[g], ha='center', va='center', fontsize=22, color=K)
        ov.text(xc, 73, group_n[g], ha='center', va='center', fontsize=22, color=K)

# side labels with vertical rules
ov.plot([493, 493], [105, 1445], color='k', lw=3.2, solid_capstyle='butt', zorder=1)
ov.text(493, 778, 'Mutation frequency (fold change vs background)', rotation=90, ha='center',
        va='center', fontsize=24, color=K, zorder=2,
        bbox=dict(facecolor='white', edgecolor='none', pad=3))
ov.plot([1182, 1182], [107, 1447], color='k', lw=3.2, solid_capstyle='butt', zorder=1)
ov.text(1182, 778, '% hypermutated per case', rotation=90, ha='center',
        va='center', fontsize=24, color=K, zorder=2,
        bbox=dict(facecolor='white', edgecolor='none', pad=3))

# panel letters
ov.text(0, 47, 'a', fontsize=44, fontweight='bold', ha='left', va='baseline', color='k')
ov.text(480, 48, 'b', fontsize=44, fontweight='bold', ha='left', va='baseline', color='k')
ov.text(1165, 47, 'c', fontsize=44, fontweight='bold', ha='left', va='baseline', color='k')

# ----------------------- panel a: Venn -----------------------
C_GCB = '#4B4BA6'
C_ABC = '#C62127'
C_GC = '#858585'
C_GCT = '#686868'
fill_cols = {"all": '#F8B084', "gcb_abc": '#A884BF', "gcb": '#D9E2F3',
             "abc": '#F5A88E', "gc": '#D9D9D9'}
R = 60.0
venn_x0 = [111.7, 310.8]
venn_y0 = 211.7
venn_dy = 272.0
lab_off = {"GCB": (-14.5, -94.7), "ABC": (72.3, -94.7), "GC": (30.3, 121.3)}
size_dy = 25.0
reg_off = [
    [(-32.7, -3.7), (26.3, -20.7), (87.3, -4.7), (27.3, 21.3), (-8.7, 44.3), (68.3, 40.3), (30.3, 82.3)],
    [(-29.8, -3.7), (27.2, -20.7), (86.2, -4.7), (29.2, 21.3), (-7.8, 45.3), (70.2, 40.3), (30.2, 83.3)],
]
set_sizes = [venn_set_sizes_SE, venn_set_sizes_E]
reg_counts = [venn_regions_SE, venn_regions_E]

for ci in range(2):
    ov.text(venn_x0[ci] + 30.0, 53, venn_cols[ci], ha='center', va='center', fontsize=24, color=K)

for r in range(5):
    for ci in range(2):
        gx, gy = venn_x0[ci], venn_y0 + r * venn_dy
        ax_, ay_ = gx + 56.6, gy
        cx_, cy_ = gx + 30.0, gy + 47.3
        x0, x1 = gx - 66, gx + 124
        y0, y1 = gy - 66, gy + 116
        xs = np.arange(x0, x1, 0.5) + 0.25
        ys = np.arange(y0, y1, 0.5) + 0.25
        X, Y = np.meshgrid(xs, ys)
        a = (X - gx) ** 2 + (Y - gy) ** 2 <= R ** 2
        b = (X - ax_) ** 2 + (Y - ay_) ** 2 <= R ** 2
        c = (X - cx_) ** 2 + (Y - cy_) ** 2 <= (R - 0.5) ** 2
        kind = venn_highlight[r]
        if kind == "all":
            msk = a & b & c
        elif kind == "gcb_abc":
            msk = a & b & ~c
        elif kind == "gcb":
            msk = a & ~b & ~c
        elif kind == "abc":
            msk = b & ~a & ~c
        else:
            msk = c & ~a & ~b
        img = np.zeros(msk.shape + (4,))
        img[msk] = matplotlib.colors.to_rgba(fill_cols[kind])
        ov.imshow(img, extent=(x0, x1, y1, y0), origin='upper', interpolation='bilinear', zorder=1)
        for (px, py), col, rr in (((gx, gy), C_GCB, R), ((ax_, ay_), C_ABC, R), ((cx_, cy_), C_GC, R - 0.5)):
            ov.add_patch(Circle((px, py), rr, fill=False, ec=col, lw=2.5, zorder=3))
        for si, (nm, col) in enumerate((("GCB", C_GCB), ("ABC", C_ABC), ("GC", C_GCT))):
            ox, oy = lab_off[nm]
            ov.text(gx + ox, gy + oy, nm, ha='center', va='center', fontsize=16,
                    fontweight='bold', color=col, zorder=4)
            ov.text(gx + ox, gy + oy + size_dy, "(%d)" % set_sizes[ci][si], ha='center', va='center',
                    fontsize=13.3, fontweight='bold', color=col, zorder=4)
        for k, val in enumerate(reg_counts[ci]):
            ox, oy = reg_off[ci][k]
            ov.text(gx + ox, gy + oy, str(val), ha='center', va='center', fontsize=13.6,
                    color='k', zorder=4)

ov.set_xlim(0, W)
ov.set_ylim(H, 0)
ov.set_aspect('auto')

fig.savefig('out.png', dpi=100)
